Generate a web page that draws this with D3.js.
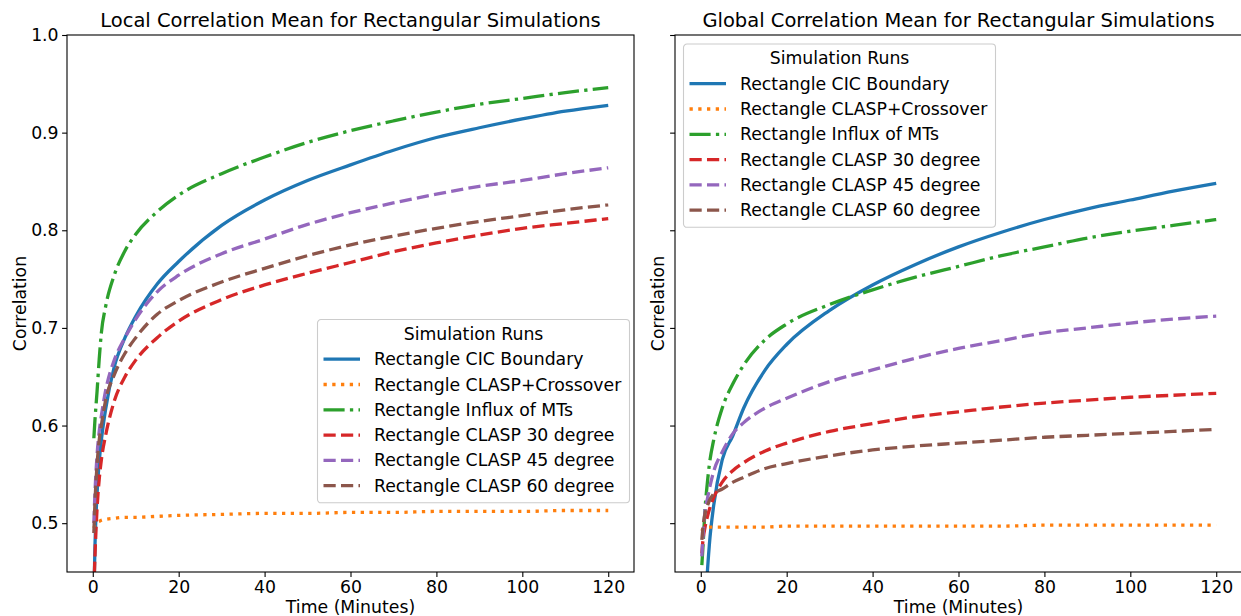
<!DOCTYPE html>
<html>
<head>
<meta charset="utf-8">
<script src="https://cdn.jsdelivr.net/npm/d3@7"></script>
<style>
body { margin: 0; background: #fff; }
text { font-family: "DejaVu Sans", sans-serif; }
</style>
</head>
<body>
<script>
// sample times (minutes), shared by every run
var times = [0.25, 0.5, 1, 1.5, 2, 3, 5, 7.5, 10, 15, 20, 30, 40, 50, 60, 70, 80, 90, 100, 110, 120];

var series_names = ["Rectangle CIC Boundary", "Rectangle CLASP+Crossover", "Rectangle Influx of MTs",
                    "Rectangle CLASP 30 degree", "Rectangle CLASP 45 degree", "Rectangle CLASP 60 degree"];
var series_colors = ["#1f77b4", "#ff7f0e", "#2ca02c", "#d62728", "#9467bd", "#8c564b"];
var series_styles = ["solid", "dotted", "dashdot", "dashed", "dashed", "dashed"];

// local correlation mean
var local_cic     = [0.42, 0.475, 0.53, 0.563, 0.585, 0.617, 0.66, 0.69, 0.712, 0.745, 0.768, 0.805, 0.831, 0.851, 0.867, 0.882, 0.895, 0.905, 0.914, 0.922, 0.928];
var local_cross   = [0.495, 0.498, 0.501, 0.502, 0.503, 0.504, 0.505, 0.506, 0.506, 0.507, 0.508, 0.509, 0.51, 0.51, 0.511, 0.511, 0.512, 0.512, 0.512, 0.513, 0.513];
var local_influx  = [0.587, 0.605, 0.635, 0.668, 0.695, 0.722, 0.754, 0.779, 0.796, 0.819, 0.836, 0.858, 0.875, 0.89, 0.902, 0.912, 0.921, 0.929, 0.935, 0.941, 0.946];
var local_clasp30 = [0.43, 0.465, 0.515, 0.545, 0.565, 0.59, 0.625, 0.65, 0.667, 0.69, 0.707, 0.729, 0.744, 0.756, 0.767, 0.778, 0.787, 0.795, 0.802, 0.807, 0.812];
var local_clasp45 = [0.50, 0.53, 0.57, 0.594, 0.61, 0.636, 0.667, 0.69, 0.709, 0.737, 0.754, 0.776, 0.791, 0.806, 0.818, 0.828, 0.837, 0.845, 0.851, 0.858, 0.864];
var local_clasp60 = [0.49, 0.52, 0.56, 0.585, 0.60, 0.626, 0.652, 0.674, 0.69, 0.714, 0.728, 0.747, 0.761, 0.774, 0.785, 0.794, 0.802, 0.809, 0.815, 0.821, 0.826];

// global correlation mean
var global_cic     = [0.30, 0.34, 0.40, 0.447, 0.478, 0.518, 0.565, 0.59, 0.618, 0.657, 0.683, 0.718, 0.744, 0.765, 0.783, 0.798, 0.811, 0.822, 0.831, 0.84, 0.848];
var global_cross   = [0.492, 0.494, 0.495, 0.496, 0.496, 0.496, 0.496, 0.496, 0.496, 0.496, 0.497, 0.497, 0.497, 0.497, 0.497, 0.497, 0.498, 0.498, 0.498, 0.498, 0.498];
var global_influx  = [0.457, 0.475, 0.515, 0.54, 0.56, 0.585, 0.618, 0.643, 0.662, 0.688, 0.704, 0.724, 0.739, 0.752, 0.763, 0.774, 0.783, 0.792, 0.799, 0.805, 0.811];
var global_clasp30 = [0.469, 0.482, 0.496, 0.506, 0.514, 0.526, 0.542, 0.554, 0.562, 0.574, 0.582, 0.594, 0.602, 0.609, 0.614, 0.619, 0.623, 0.626, 0.629, 0.631, 0.633];
var global_clasp45 = [0.466, 0.485, 0.513, 0.524, 0.535, 0.553, 0.573, 0.592, 0.603, 0.618, 0.628, 0.645, 0.657, 0.669, 0.679, 0.687, 0.695, 0.70, 0.705, 0.709, 0.712];
var global_clasp60 = [0.483, 0.495, 0.51, 0.517, 0.523, 0.53, 0.535, 0.542, 0.547, 0.556, 0.561, 0.569, 0.575, 0.579, 0.582, 0.585, 0.588, 0.590, 0.592, 0.594, 0.596];

var x_ticks = [0, 20, 40, 60, 80, 100, 120];
var y_ticks = [0.5, 0.6, 0.7, 0.8, 0.9, 1.0];

var svg_width = 1241, svg_height = 616;
var plot_top = 35, plot_bottom = 572;
var line_width = 3.3;
var font_size = 17.3, title_size = 19.5;

var dash_patterns = {
  solid: null,
  dotted: [1 * line_width, 1.65 * line_width],
  dashed: [3.7 * line_width, 1.6 * line_width],
  dashdot: [6.4 * line_width, 1.6 * line_width, 1 * line_width, 1.6 * line_width]
};

var panels = [
  { left: 67, right: 634, title: "Local Correlation Mean for Rectangular Simulations",
    values: [local_cic, local_cross, local_influx, local_clasp30, local_clasp45, local_clasp60],
    y_labels: true, ylabel_off: 47, legend_x: 317.5, legend_y: 319.5 },
  { left: 675, right: 1242, title: "Global Correlation Mean for Rectangular Simulations",
    values: [global_cic, global_cross, global_influx, global_clasp30, global_clasp45, global_clasp60],
    y_labels: false, ylabel_off: 17, legend_x: 683.5, legend_y: 44 }
];

var svg = d3.select("body").append("svg")
  .attr("width", svg_width).attr("height", svg_height);

panels.forEach(function(p, pi) { draw_panel(p, pi); });

function draw_panel(p, pi)
{
  var x = d3.scaleLinear().domain([-6, 126]).range([p.left, p.right]);
  var y = d3.scaleLinear().domain([0.45, 1.0]).range([plot_bottom, plot_top]);
  var g = svg.append("g");

  var clip_id = "clip" + pi;
  g.append("clipPath").attr("id", clip_id).append("rect")
    .attr("x", p.left).attr("y", plot_top)
    .attr("width", p.right - p.left).attr("height", plot_bottom - plot_top);

  var line = d3.line()
    .x(function(d) { return x(d[0]); })
    .y(function(d) { return y(d[1]); })
    .curve(d3.curveMonotoneX);

  var lineg = g.append("g").attr("clip-path", "url(#" + clip_id + ")");
  p.values.forEach(function(vals, i) {
    var pts = times.map(function(t, k) { return [t, vals[k]]; });
    var dash = dash_patterns[series_styles[i]];
    lineg.append("path")
      .attr("d", line(pts))
      .attr("fill", "none")
      .attr("stroke", series_colors[i])
      .attr("stroke-width", line_width)
      .attr("stroke-dasharray", dash ? dash.join(",") : null);
  });

  // axes
  var xaxis = g.append("g").attr("transform", "translate(0," + plot_bottom + ")")
    .call(d3.axisBottom(x).tickValues(x_ticks).tickSize(4.9).tickPadding(3.5).tickSizeOuter(0));
  var yaxis = g.append("g").attr("transform", "translate(" + p.left + ",0)")
    .call(d3.axisLeft(y).tickValues(y_ticks).tickSize(4.9).tickPadding(3.5).tickSizeOuter(0)
      .tickFormat(p.y_labels ? d3.format(".1f") : function() { return ""; }));
  [xaxis, yaxis].forEach(function(a) {
    a.select(".domain").remove();
    a.selectAll("line").attr("stroke", "#000").attr("stroke-width", 1.1);
    a.selectAll("text").attr("fill", "#000")
      .style("font-size", font_size + "px")
      .style("font-family", "DejaVu Sans, sans-serif");
  });

  g.append("rect")
    .attr("x", p.left).attr("y", plot_top)
    .attr("width", p.right - p.left).attr("height", plot_bottom - plot_top)
    .attr("fill", "none").attr("stroke", "#000").attr("stroke-width", 1.1);

  // titles and labels
  g.append("text").text(p.title)
    .attr("x", (p.left + p.right) / 2).attr("y", 27)
    .attr("text-anchor", "middle").style("font-size", title_size + "px");
  g.append("text").text("Time (Minutes)")
    .attr("x", (p.left + p.right) / 2).attr("y", 613)
    .attr("text-anchor", "middle").style("font-size", font_size + "px");
  g.append("text").text("Correlation")
    .attr("transform", "translate(" + (p.left - p.ylabel_off) + "," + ((plot_top + plot_bottom) / 2) + ") rotate(-90)")
    .attr("text-anchor", "middle").attr("dy", "0.35em").style("font-size", font_size + "px");

  draw_legend(g, p.legend_x, p.legend_y);
}

function draw_legend(g, lx, ly)
{
  var w = 312, h = 183.3, row = 25.3;
  var lg = g.append("g").attr("transform", "translate(" + lx + "," + ly + ")");
  lg.append("rect").attr("width", w).attr("height", h).attr("rx", 3.5)
    .attr("fill", "#fff").attr("fill-opacity", 0.8)
    .attr("stroke", "#cccccc").attr("stroke-width", 1.1);
  lg.append("text").text("Simulation Runs")
    .attr("x", w / 2).attr("y", 14).attr("dy", "0.35em")
    .attr("text-anchor", "middle").style("font-size", font_size + "px");
  series_names.forEach(function(name, i) {
    var cy = 39.7 + i * row;
    var dash = dash_patterns[series_styles[i]];
    lg.append("line")
      .attr("x1", 6).attr("x2", 42.5).attr("y1", cy).attr("y2", cy)
      .attr("stroke", series_colors[i]).attr("stroke-width", line_width)
      .attr("stroke-dasharray", dash ? dash.join(",") : null);
    lg.append("text").text(name)
      .attr("x", 56.5).attr("y", cy).attr("dy", "0.35em")
      .style("font-size", font_size + "px");
  });
}
</script>
</body>
</html>
